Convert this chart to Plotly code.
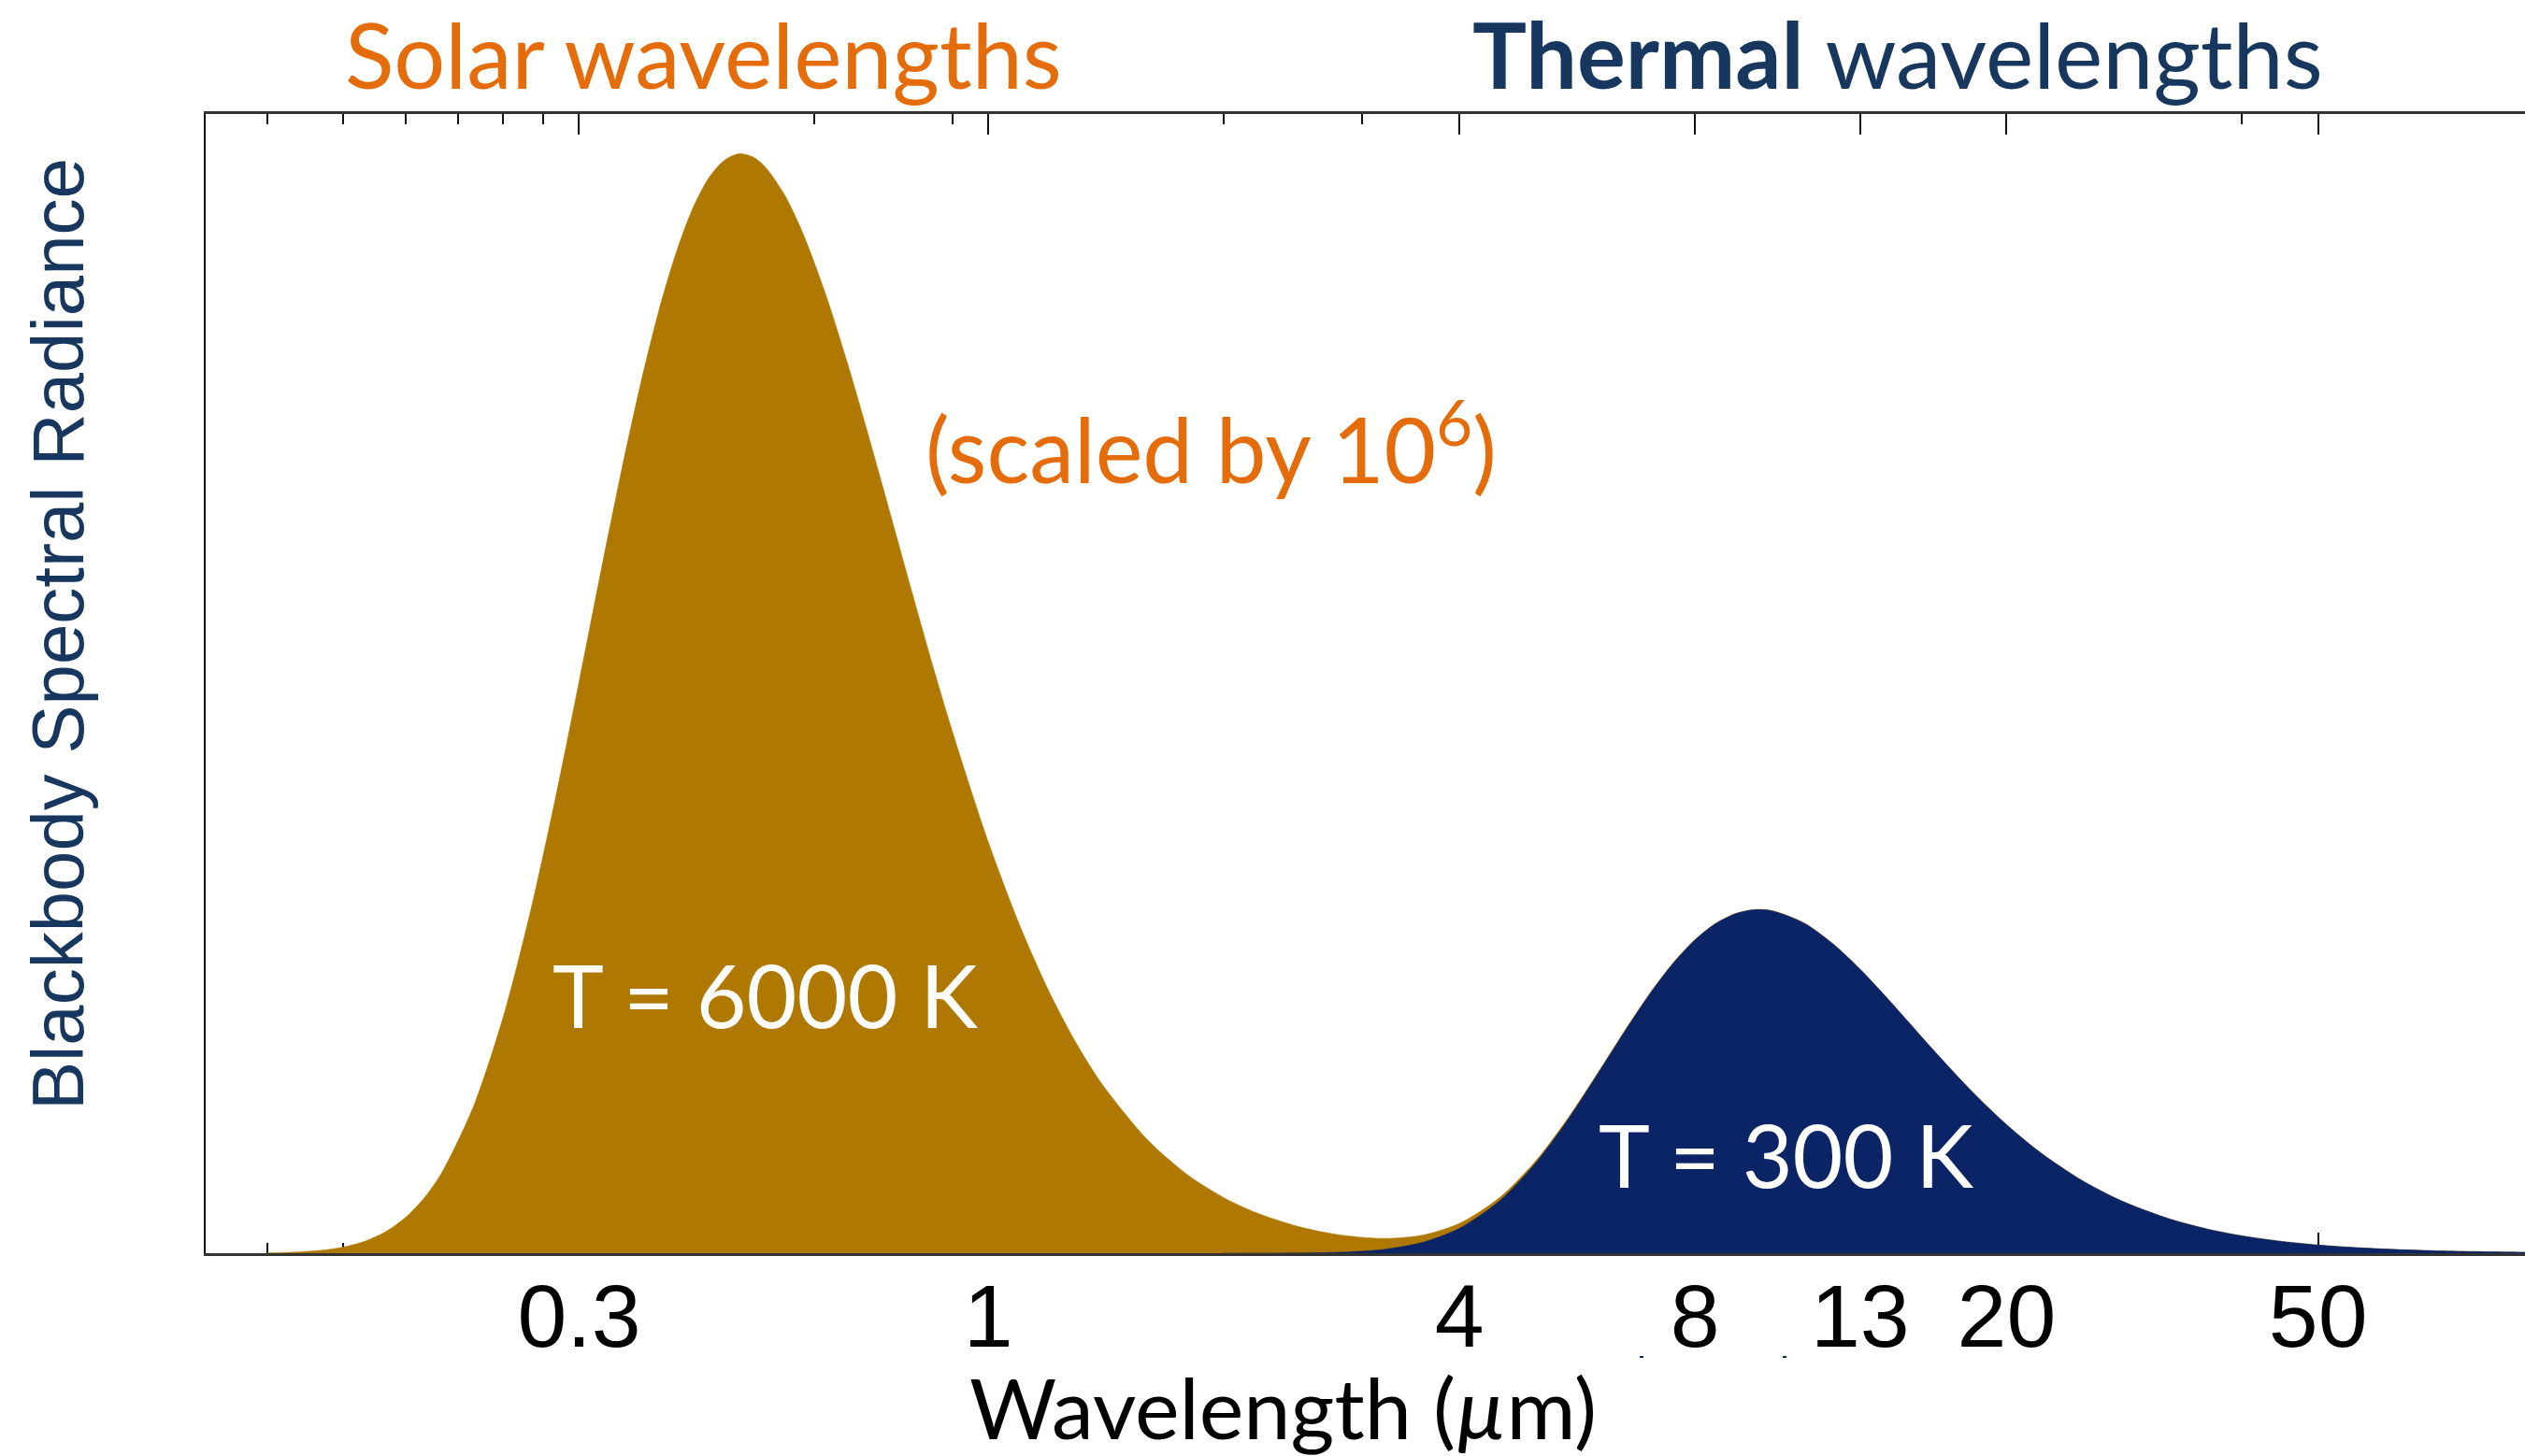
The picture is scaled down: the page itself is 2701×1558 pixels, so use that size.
import plotly.graph_objects as go

# Blackbody spectral radiance (W m^-2 sr^-1 um^-1) read along a shared wavelength grid
wavelength_um = [0.12, 0.13, 0.14, 0.15, 0.16, 0.17, 0.18, 0.19, 0.20,
                 0.22, 0.24, 0.26, 0.28, 0.30, 0.32, 0.34, 0.36, 0.38, 0.40,
                 0.42, 0.44, 0.46, 0.48, 0.50, 0.52, 0.55, 0.58, 0.62, 0.66,
                 0.70, 0.75, 0.80, 0.85, 0.90, 1.0, 1.1, 1.2, 1.3, 1.4, 1.6,
                 1.8, 2.0, 2.2, 2.5, 2.8, 3.2, 3.6, 4.0, 4.5, 5.0, 5.5, 6.0,
                 6.5, 7.0, 7.5, 8.0, 8.5, 9.0, 9.5, 10, 11, 12, 13, 14, 15,
                 16, 18, 20, 22, 25, 28, 32, 36, 40, 45, 50, 56, 63, 71, 80,
                 90, 100]

# T = 6000 K, scaled down by 10^6
solar_6000K = [0.0100, 0.0313, 0.0807, 0.179, 0.352, 0.628, 1.033, 1.589, 2.310,
               4.267, 6.849, 9.900, 13.21, 16.56, 19.77, 22.69, 25.24, 27.37, 29.05,
               30.31, 31.17, 31.66, 31.85, 31.76, 31.44, 30.63, 29.53, 27.76, 25.82,
               23.83, 21.39, 19.10, 16.99, 15.10, 11.91, 9.426, 7.507, 6.024, 4.873, 3.268,
               2.260, 1.607, 1.171, 0.758, 0.511, 0.318, 0.208, 0.142, 0.092, 0.062, 0.043, 0.031,
               0.023, 0.017, 0.013, 0.010, 0.008, 0.0066, 0.0054, 0.0044, 0.0030, 0.0022, 0.0016, 0.0012, 0.0009,
               0.0007, 0.0004, 0.0003, 0.0002, 0.0001, 0.0001, 0.0, 0.0, 0.0, 0.0, 0.0, 0.0, 0.0, 0.0, 0.0,
               0.0, 0.0]

# T = 300 K
thermal_300K = [0.0, 0.0, 0.0, 0.0, 0.0, 0.0, 0.0, 0.0, 0.0,
                0.0, 0.0, 0.0, 0.0, 0.0, 0.0, 0.0, 0.0, 0.0, 0.0,
                0.0, 0.0, 0.0, 0.0, 0.0, 0.0, 0.0, 0.0, 0.0, 0.0,
                0.0, 0.0, 0.0, 0.0, 0.0, 0.0, 0.0, 0.0, 0.0, 0.0, 0.0,
                0.0, 0.0001, 0.0008, 0.0057, 0.0252, 0.110, 0.323, 0.722, 1.518, 2.603, 3.865, 5.175,
                6.416, 7.506, 8.399, 9.078, 9.549, 9.830, 9.946, 9.924, 9.573, 8.961, 8.223, 7.446, 6.684,
                5.967, 4.718, 3.722, 2.946, 2.099, 1.523, 1.021, 0.706, 0.502, 0.339, 0.237, 0.160, 0.105, 0.068, 0.044,
                0.029, 0.019]

major_ticks = [0.3, 1, 4, 8, 13, 20, 50]
major_labels = ["0.3", "1", "4", "8", "13", "20", "50"]
minor_ticks = [0.12, 0.15, 0.18, 0.21, 0.24, 0.27, 0.6, 0.9, 2, 3, 40]

GOLD = "#AF7800"
NAVY = "#0B2466"
ORANGE = "#E46C0A"
DARK_BLUE = "#17375E"
CAL = "Lato, Carlito, Calibri, sans-serif"
ARIAL = "Liberation Sans, Arial, sans-serif"

W, H = 2701, 1558
PL, PR, PT, PB = 220, 2701, 122, 1341


def px_x(px):
    return (px - PL) / (PR - PL)


def px_y(py):
    return (PB - py) / (PB - PT)


# the warm area shows the combined emission, the cool one is laid over it
combined = [s + t for s, t in zip(solar_6000K, thermal_300K)]
th_x = [w for w, t in zip(wavelength_um, thermal_300K) if t > 0]
th_y = [t for t in thermal_300K if t > 0]

fig = go.Figure()
fig.add_trace(go.Scatter(
    x=wavelength_um, y=combined, mode="lines",
    line=dict(color=GOLD, width=0.5, shape="spline", smoothing=0.8),
    fill="tozeroy", fillcolor=GOLD, hoverinfo="skip", showlegend=False))
fig.add_trace(go.Scatter(
    x=th_x, y=th_y, mode="lines",
    line=dict(color=NAVY, width=0.5, shape="spline", smoothing=0.8),
    fill="tozeroy", fillcolor=NAVY, hoverinfo="skip", showlegend=False))

annotations = [
    dict(text="Solar wavelengths", x=px_x(752), y=px_y(58),
         font=dict(family=CAL, size=97, color=ORANGE)),
    dict(text="<b>Thermal</b> wavelengths", x=px_x(2030), y=px_y(58),
         font=dict(family=CAL, size=97, color=DARK_BLUE)),
    dict(text="(scaled by 10<sup>6</sup>)", x=px_x(1295), y=px_y(474),
         font=dict(family=CAL, size=96, color=ORANGE)),
    dict(text="T = 6000 K", x=px_x(818), y=px_y(1064),
         font=dict(family=CAL, size=93, color="white")),
    dict(text="T = 300 K", x=px_x(1910), y=px_y(1235),
         font=dict(family=CAL, size=93, color="white")),
    dict(text="Wavelength (<i>µ</i>m)", x=px_x(1372), y=px_y(1505),
         font=dict(family=CAL, size=90, color="black")),
    dict(text="Blackbody Spectral Radiance", x=px_x(62), y=px_y(679),
         textangle=-90, font=dict(family=ARIAL, size=78, color=DARK_BLUE)),
]
for a in annotations:
    a.update(xref="paper", yref="paper", xanchor="center", yanchor="middle",
             showarrow=False)

# two small dark marks below the 8 and 13 labels
shapes = [
    dict(type="line", xref="paper", yref="paper",
         x0=px_x(1754), x1=px_x(1758), y0=px_y(1452), y1=px_y(1452),
         line=dict(color=NAVY, width=2)),
    dict(type="line", xref="paper", yref="paper",
         x0=px_x(1907), x1=px_x(1911), y0=px_y(1452), y1=px_y(1452),
         line=dict(color=NAVY, width=2)),
]

fig.update_layout(
    width=W, height=H,
    margin=dict(l=PL, r=W - PR, t=PT, b=H - PB, pad=0),
    paper_bgcolor="white", plot_bgcolor="white",
    annotations=annotations, shapes=shapes,
    xaxis=dict(
        type="log", range=[-1, 1.9634],
        tickmode="array", tickvals=major_ticks, ticktext=major_labels,
        ticks="inside", ticklen=22, tickwidth=2, tickcolor="#111",
        showline=True, linecolor="#333", linewidth=2.5, mirror="ticks",
        showgrid=False, layer="below traces",
        tickfont=dict(family=ARIAL, size=95, color="black"),
        ticklabelstandoff=-17,
        minor=dict(tickmode="array", tickvals=minor_ticks, ticks="inside",
                   ticklen=11, tickwidth=2, tickcolor="#111", showgrid=False),
    ),
    yaxis=dict(
        range=[0, 33.0], showticklabels=False, ticks="",
        showline=True, linecolor="#111", linewidth=1.5,
        showgrid=False, zeroline=False,
    ),
)

fig.write_html("out.html")
